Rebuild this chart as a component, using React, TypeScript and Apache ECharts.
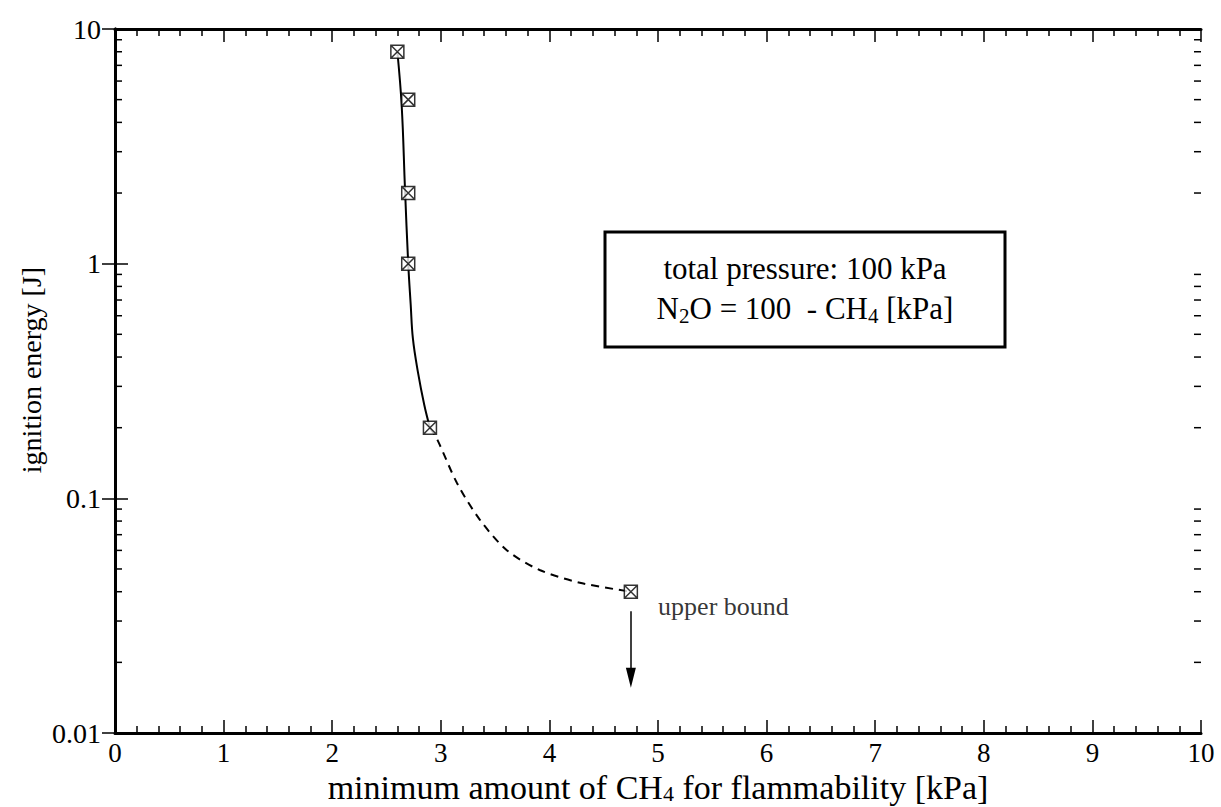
import React, { useEffect, useRef } from "react";
import * as echarts from "echarts";

// Measured points (CH4 kPa, ignition energy J)
const measuredCH4 = [2.6, 2.7, 2.7, 2.7, 2.9, 4.75];
const measuredEnergy = [8, 5, 2, 1, 0.2, 0.04];

// Fitted curve: solid part and dashed part
const solidCurveCH4 = [2.6, 2.64, 2.67, 2.7, 2.723, 2.743, 2.789, 2.848, 2.9];
const solidCurveEnergy = [8, 4.7, 2.1, 1, 0.667, 0.48, 0.346, 0.25, 0.2];
const dashedCurveCH4 = [2.9, 2.97, 3.15, 3.36, 3.61, 3.91, 4.28, 4.75];
const dashedCurveEnergy = [0.2, 0.177, 0.116, 0.081, 0.06, 0.0495, 0.0437, 0.04];

// Upper-bound arrow (start, tip)
const arrowCH4 = 4.75;
const arrowEnergy = [0.033, 0.0172];

// Log-axis minor ticks
const logMinorTicks = [
  0.02, 0.03, 0.04, 0.05, 0.06, 0.07, 0.08, 0.09,
  0.2, 0.3, 0.4, 0.5, 0.6, 0.7, 0.8, 0.9,
  2, 3, 4, 5, 6, 7, 8, 9,
];
const yTickLabels: Record<string, string> = { "0.01": "0.01", "0.1": "0.1", "1": "1", "10": "10" };

const FONT = "Liberation Serif";

export default function App() {
  const ref = useRef<HTMLDivElement>(null);
  useEffect(() => {
    if (!ref.current) return;
    const chart = echarts.init(ref.current, null, { renderer: "svg" });
    const axisLine = { lineStyle: { color: "#000", width: 3 } };
    const tick = { inside: true, length: 13, lineStyle: { color: "#000", width: 1.5 } };
    const minorTick = { show: true, splitNumber: 5, length: 7, lineStyle: { color: "#000", width: 1.5 } };
    const option: any = {
      animation: false,
      backgroundColor: "#fff",
      textStyle: { fontFamily: FONT, color: "#000" },
      grid: { left: 115, right: 20, top: 29, bottom: 74, containLabel: false, outerBoundsMode: "none" },
      xAxis: [
        {
          type: "value", min: 0, max: 10, interval: 1, position: "bottom",
          axisLine, axisTick: tick, minorTick, splitLine: { show: false },
          axisLabel: { color: "#000", fontFamily: FONT, fontSize: 27, lineHeight: 27, margin: 6 },
          name: "{a|minimum amount of CH}{s|4}{a| for flammability [kPa]}",
          nameLocation: "middle", nameGap: 38, nameMoveOverlap: false,
          nameTextStyle: {
            color: "#000", fontFamily: FONT, fontSize: 34,
            rich: {
              a: { fontFamily: FONT, fontSize: 34, lineHeight: 33, color: "#000" },
              s: { fontFamily: FONT, fontSize: 22, lineHeight: 22, verticalAlign: "bottom", color: "#000" },
            },
          },
        },
        {
          type: "value", min: 0, max: 10, interval: 1, position: "top",
          axisLine, axisTick: tick, minorTick, splitLine: { show: false },
          axisLabel: { show: false },
        },
      ],
      yAxis: [
        {
          type: "log", logBase: 10, min: 0.01, max: 10, position: "left",
          axisLine, axisTick: tick, splitLine: { show: false },
          axisLabel: {
            color: "#000", fontFamily: FONT, fontSize: 28, margin: 14,
            formatter: (v: number) => yTickLabels[String(+v.toPrecision(3))] ?? String(+v.toPrecision(3)),
          },
          name: "ignition energy [J]", nameLocation: "middle", nameGap: 70, nameMoveOverlap: false,
          nameTextStyle: { color: "#000", fontFamily: FONT, fontSize: 28, padding: [0, 0, 0, 22] },
        },
        {
          type: "log", logBase: 10, min: 0.01, max: 10, position: "right",
          axisLine, axisTick: tick, splitLine: { show: false },
          axisLabel: { show: false },
        },
      ],
      series: [
        {
          type: "custom",
          silent: true,
          data: logMinorTicks.map((v) => [0, v]),
          clip: false,
          renderItem: (_p: any, api: any) => {
            const v = api.value(1);
            const l = api.coord([0, v]);
            const r = api.coord([10, v]);
            const st = { stroke: "#000", lineWidth: 1.5 };
            return {
              type: "group",
              children: [
                { type: "line", shape: { x1: l[0], y1: l[1], x2: l[0] + 7, y2: l[1] }, style: st },
                { type: "line", shape: { x1: r[0] - 7, y1: r[1], x2: r[0], y2: r[1] }, style: st },
              ],
            };
          },
        },
        {
          type: "line",
          data: solidCurveCH4.map((x, i) => [x, solidCurveEnergy[i]]),
          smooth: 0.4, showSymbol: false, symbol: "none",
          lineStyle: { color: "#000", width: 2 },
          z: 3,
        },
        {
          type: "line",
          data: dashedCurveCH4.map((x, i) => [x, dashedCurveEnergy[i]]),
          smooth: 0.3, showSymbol: false, symbol: "none",
          lineStyle: { color: "#000", width: 2, type: [8, 6] },
          z: 3,
        },
        {
          type: "scatter",
          data: measuredCH4.map((x, i) => {
            const item: any = { value: [x, measuredEnergy[i]] };
            if (i === measuredCH4.length - 1) {
              item.label = {
                show: true, formatter: "upper bound", position: "right", distance: 20,
                offset: [0, 15], color: "#000", fontFamily: FONT, fontSize: 26,
              };
            }
            return item;
          }),
          symbol: "path://M0,0L12,0L12,12L0,12ZM0,0L12,12M12,0L0,12",
          symbolSize: 13,
          itemStyle: { color: "#fff", borderColor: "#000", borderWidth: 1.5 },
          z: 5,
          markLine: {
            silent: true,
            symbol: ["none", "triangle"],
            symbolSize: [10, 20],
            label: { show: false },
            lineStyle: { color: "#000", width: 1.5, type: "solid" },
            data: [[{ coord: [arrowCH4, arrowEnergy[0]] }, { coord: [arrowCH4, arrowEnergy[1]] }]],
          },
        },
      ],
      graphic: [
        {
          type: "rect",
          shape: { x: 605, y: 232, width: 400, height: 115 },
          style: { fill: "#fff", stroke: "#000", lineWidth: 3 },
          z: 10,
        },
        {
          type: "text",
          x: 805, y: 268,
          style: {
            text: "total pressure: 100 kPa",
            fill: "#000", fontFamily: FONT, fontSize: 31,
            align: "center", verticalAlign: "middle",
          },
          z: 11,
        },
        {
          type: "text",
          x: 805, y: 308,
          style: {
            text: "{a|N}{s|2}{a|O = 100  - CH}{s|4}{a| [kPa]}",
            fill: "#000", fontFamily: FONT, fontSize: 31,
            align: "center", verticalAlign: "middle",
            rich: {
              a: { fontFamily: FONT, fontSize: 31, lineHeight: 36, fill: "#000" },
              s: { fontFamily: FONT, fontSize: 21, lineHeight: 21, verticalAlign: "bottom", fill: "#000" },
            },
          },
          z: 11,
        },
      ],
    };
    chart.setOption(option);
    return () => chart.dispose();
  }, []);
  return (
    <div
      ref={ref}
      style={{ position: "absolute", left: 0, top: 0, width: 1221, height: 807, background: "#fff" }}
    />
  );
}
